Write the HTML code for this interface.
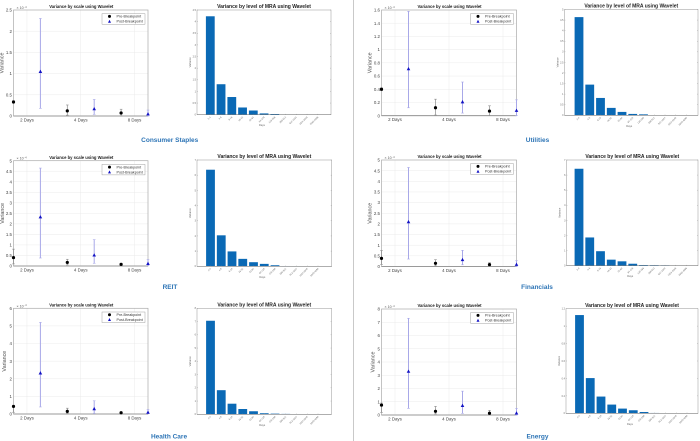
<!DOCTYPE html>
<html>
<head>
<meta charset="utf-8">
<title>Variance by scale and MRA level</title>
<style>
html,body{margin:0;padding:0;background:#fff;}
#stage{display:block;width:700px;height:441px;filter:blur(0.25px);}
text{font-family:"Liberation Sans",sans-serif;}
</style>
</head>
<body>
<svg id="stage" xmlns="http://www.w3.org/2000/svg" width="700" height="441" viewBox="0 0 700 441">
<rect width="700" height="441" fill="#fff"/>
<line x1="353.5" y1="0" x2="353.5" y2="441" stroke="#c9c9c9" stroke-width="1"/>
</svg>
<script>
// Scale charts: shared categories and series names
const scaleCategories = ['2 Days', '4 Days', '8 Days'];
const seriesNames = ['Pre-Breakpoint', 'Post-Breakpoint'];
const levelCategories = ['2-4','4-8','8-16','16-32','32-64','64-128','128-256','256-512','512-1024','1024-2048','2048-4096'];

// Consumer Staples
const staplesTicks = [0, 0.5, 1, 1.5, 2, 2.5];
const staplesPre = [0.33, 0.12, 0.07];
const staplesPreLow = [0.31, 0.02, 0.0];
const staplesPreHigh = [0.36, 0.26, 0.16];
const staplesPost = [1.05, 0.17, 0.05];
const staplesPostLow = [0.18, 0.04, 0.0];
const staplesPostHigh = [2.3, 0.39, 0.14];
const staplesLevelTicks = [0, 0.5, 1, 1.5, 2, 2.5, 3, 3.5, 4, 4.5];
const staplesLevels = [4.23, 1.31, 0.76, 0.31, 0.18, 0.055, 0.03, 0.006, 0.004, 0.002, 0.001];

// Utilities
const utilitiesTicks = [0, 0.2, 0.4, 0.6, 0.8, 1, 1.2, 1.4, 1.6];
const utilitiesPre = [0.4, 0.12, 0.07];
const utilitiesPreLow = [0.38, 0.01, 0.0];
const utilitiesPreHigh = [0.42, 0.25, 0.15];
const utilitiesPost = [0.71, 0.21, 0.08];
const utilitiesPostLow = [0.12, 0.04, 0.0];
const utilitiesPostHigh = [1.58, 0.51, 0.24];
const utilitiesLevelTicks = [0, 0.5, 1, 1.5, 2, 2.5, 3, 3.5, 4, 4.5, 5];
const utilitiesLevels = [4.64, 1.45, 0.82, 0.35, 0.16, 0.065, 0.045, 0.005, 0.003, 0.002, 0.001];

// REIT
const reitTicks = [0, 0.5, 1, 1.5, 2, 2.5, 3, 3.5, 4, 4.5, 5];
const reitPre = [0.4, 0.17, 0.08];
const reitPreLow = [0.1, 0.05, 0.03];
const reitPreHigh = [0.8, 0.32, 0.13];
const reitPost = [2.33, 0.52, 0.12];
const reitPostLow = [0.38, 0.13, 0.02];
const reitPostHigh = [4.65, 1.25, 0.3];
const reitLevelTicks = [0, 1, 2, 3, 4, 5, 6, 7];
const reitLevels = [6.36, 2.04, 0.98, 0.49, 0.27, 0.16, 0.07, 0.02, 0.01, 0.005, 0.002];

// Financials
const financialsTicks = [0, 0.5, 1, 1.5, 2, 2.5, 3, 3.5, 4, 4.5, 5];
const financialsPre = [0.38, 0.15, 0.09];
const financialsPreLow = [0.1, 0.03, 0.02];
const financialsPreHigh = [0.75, 0.32, 0.18];
const financialsPost = [2.1, 0.32, 0.1];
const financialsPostLow = [0.35, 0.08, 0.0];
const financialsPostHigh = [4.65, 0.76, 0.27];
const financialsLevelTicks = [0, 1, 2, 3, 4, 5, 6, 7];
const financialsLevels = [6.42, 1.87, 0.96, 0.4, 0.29, 0.13, 0.04, 0.03, 0.02, 0.005, 0.002];

// Health Care
const healthTicks = [0, 1, 2, 3, 4, 5, 6];
const healthPre = [0.43, 0.15, 0.07];
const healthPreLow = [0.1, 0.03, 0.03];
const healthPreHigh = [0.5, 0.33, 0.1];
const healthPost = [2.33, 0.3, 0.1];
const healthPostLow = [0.4, 0.03, 0.02];
const healthPostHigh = [5.2, 0.75, 0.25];
const healthLevelTicks = [0, 1, 2, 3, 4, 5, 6, 7, 8];
const healthLevels = [7.06, 1.82, 0.8, 0.4, 0.23, 0.08, 0.05, 0.03, 0.006, 0.003, 0.002];

// Energy
const energyTicks = [0, 1, 2, 3, 4, 5, 6, 7, 8];
const energyPre = [0.75, 0.28, 0.13];
const energyPreLow = [0.2, 0.08, 0.03];
const energyPreHigh = [0.9, 0.65, 0.35];
const energyPost = [3.3, 0.72, 0.15];
const energyPostLow = [0.5, 0.12, 0.0];
const energyPostHigh = [7.3, 1.8, 0.5];
const energyLevelTicks = [0, 0.2, 0.4, 0.6, 0.8, 1, 1.2];
const energyLevels = [1.127, 0.404, 0.192, 0.1, 0.054, 0.035, 0.015, 0.004, 0.001, 0.0005, 0.0003];

const svg = document.getElementById('stage');
const NS = 'http://www.w3.org/2000/svg';

function make(parent, tag, attrs, txt) {
  const el = document.createElementNS(NS, tag);
  for (const k in attrs) el.setAttribute(k, attrs[k]);
  if (txt !== undefined) el.textContent = txt;
  parent.appendChild(el);
  return el;
}
function linearY(box, maxV) {
  return v => box.bottom - (v / maxV) * (box.bottom - box.top);
}

function drawScaleChart(slug, box, ticks, pre, preLow, preHigh, post, postLow, postHigh, yLabelX, exponent) {
  const g = make(svg, 'g', {});
  
  
  const y = linearY(box, ticks[ticks.length - 1]);
  const x = v => box.left + (v / 5) * (box.right - box.left);
  // grid and y ticks
  ticks.forEach(t => {
    const py = y(t);
    if (t > 0 && t < ticks[ticks.length - 1]) {
      make(g, 'line', {x1: box.left, x2: box.right, y1: py, y2: py, stroke: '#e6e6e6', 'stroke-width': 0.4});
    }
    const tl = make(g, 'text', {x: box.left - 1.5, y: py + 1.6, 'font-size': 4.4, fill: '#444', 'text-anchor': 'end'}, String(t));
    
    
  });
  scaleCategories.forEach((c, i) => {
    const px = x(2 * i + 0.5);
    make(g, 'line', {x1: px, x2: px, y1: box.top, y2: box.bottom, stroke: '#e6e6e6', 'stroke-width': 0.4});
    const tl = make(g, 'text', {x: px, y: box.bottom + 5.5, 'font-size': 4.4, fill: '#444', 'text-anchor': 'middle'}, c);
    
    
  });
  // frame
  const frame = make(g, 'rect', {x: box.left, y: box.top, width: box.right - box.left, height: box.bottom - box.top, fill: 'none', stroke: '#aaa', 'stroke-width': 0.7});
  
  
  make(g, 'line', {x1: box.left, x2: box.right, y1: box.bottom, y2: box.bottom, stroke: '#8c8c8c', 'stroke-width': 0.8});
  // marks
  function errorBar(px, lo, hi, color, width) {
    make(g, 'line', {x1: px, x2: px, y1: y(lo), y2: y(hi), stroke: color, 'stroke-width': width});
    make(g, 'line', {x1: px - 1.3, x2: px + 1.3, y1: y(lo), y2: y(lo), stroke: color, 'stroke-width': 0.6});
    make(g, 'line', {x1: px - 1.3, x2: px + 1.3, y1: y(hi), y2: y(hi), stroke: color, 'stroke-width': 0.6});
  }
  scaleCategories.forEach((c, i) => {
    const px = x(2 * i);
    errorBar(px, preLow[i], preHigh[i], '#8a8a8a', 0.7);
    const dot = make(g, 'circle', {cx: px, cy: y(pre[i]), r: 1.6, fill: '#000'});
    
    
  });
  scaleCategories.forEach((c, i) => {
    const px = x(2 * i + 1);
    errorBar(px, postLow[i], postHigh[i], '#a8a8e8', 1);
    const py = y(post[i]);
    const tri = make(g, 'polygon', {points: (px - 1.8) + ',' + (py + 1.5) + ' ' + (px + 1.8) + ',' + (py + 1.5) + ' ' + px + ',' + (py - 1.8), fill: '#1212c4'});
    
    
  });
  // texts
  const title = make(g, 'text', {x: (box.left + box.right) / 2 + 0.5, y: box.top - 1.8, 'font-size': 4.2, 'font-weight': 'bold', fill: '#222', 'text-anchor': 'middle'}, 'Variance by scale using Wavelet');
  
  
  const ex = make(g, 'text', {x: box.left + 3, y: box.top - 1, 'font-size': 3.6, fill: '#555'}, '\u00d7 10');
  
  
  make(g, 'text', {x: box.left + 11, y: box.top - 2.2, 'font-size': 2.4, fill: '#555'}, exponent);
  const midY = (box.top + box.bottom) / 2;
  const yl = make(g, 'text', {x: yLabelX, y: midY, 'font-size': 5.4, fill: '#555', 'text-anchor': 'middle', transform: 'rotate(-90 ' + yLabelX + ' ' + midY + ')'}, 'Variance');
  
  
  // legend
  const lx = box.right - 46, ly = box.top + 3.7;
  const lg = make(g, 'g', {});
  
  
  make(lg, 'rect', {x: lx, y: ly, width: 43, height: 10.5, fill: '#fff', stroke: '#8c8c8c', 'stroke-width': 0.4});
  make(lg, 'circle', {cx: lx + 7.5, cy: ly + 2.7, r: 1.5, fill: '#000'});
  make(lg, 'polygon', {points: (lx + 6) + ',' + (ly + 9) + ' ' + (lx + 9) + ',' + (ly + 9) + ' ' + (lx + 7.5) + ',' + (ly + 6), fill: '#1212c4'});
  make(lg, 'text', {x: lx + 14.5, y: ly + 4, 'font-size': 3.7, fill: '#333'}, seriesNames[0]);
  make(lg, 'text', {x: lx + 14.5, y: ly + 8.9, 'font-size': 3.7, fill: '#333'}, seriesNames[1]);
}

function drawLevelChart(slug, box, ticks, levels, firstCenter) {
  const g = make(svg, 'g', {});
  
  
  const y = linearY(box, ticks[ticks.length - 1]);
  const step = 10.75;
  const x = i => firstCenter + i * step;
  const frame = make(g, 'rect', {x: box.left, y: box.top, width: box.right - box.left, height: box.bottom - box.top, fill: 'none', stroke: '#a8a8a8', 'stroke-width': 0.6});
  
  
  levels.forEach((v, i) => {
    const top = y(v);
    const bar = make(g, 'rect', {x: x(i) - 4.4, y: top, width: 8.8, height: box.bottom - top, fill: '#0a69b5'});
    
    
    const tx = x(i), ty = box.bottom + 2;
    const tl = make(g, 'text', {x: tx, y: ty + 1, 'font-size': 2.3, fill: '#666', 'text-anchor': 'end', transform: 'rotate(-45 ' + tx + ' ' + ty + ')'}, levelCategories[i]);
    
    
    make(g, 'line', {x1: tx, x2: tx, y1: box.bottom, y2: box.bottom - 0.8, stroke: '#888', 'stroke-width': 0.3});
  });
  ticks.forEach(t => {
    const py = y(t);
    make(g, 'line', {x1: box.left, x2: box.left + 1, y1: py, y2: py, stroke: '#888', 'stroke-width': 0.3});
    make(g, 'line', {x1: box.right, x2: box.right - 1, y1: py, y2: py, stroke: '#888', 'stroke-width': 0.3});
    const tl = make(g, 'text', {x: box.left - 1, y: py + 0.9, 'font-size': 2.4, fill: '#666', 'text-anchor': 'end'}, String(t));
    
    
  });
  make(g, 'line', {x1: box.left, x2: box.right, y1: box.bottom, y2: box.bottom, stroke: '#777', 'stroke-width': 0.5});
  const title = make(g, 'text', {x: (box.left + box.right) / 2, y: box.top - 1.8, 'font-size': 5, 'font-weight': 'bold', fill: '#222', 'text-anchor': 'middle'}, 'Variance by level of MRA using Wavelet');
  
  
  const xl = make(g, 'text', {x: (box.left + box.right) / 2 - 2, y: box.bottom + 11.5, 'font-size': 2.6, fill: '#666', 'text-anchor': 'middle'}, 'Days');
  
  
  const midY = (box.top + box.bottom) / 2, lx = box.left - 6;
  const yl = make(g, 'text', {x: lx, y: midY, 'font-size': 2.6, fill: '#666', 'text-anchor': 'middle', transform: 'rotate(-90 ' + lx + ' ' + midY + ')'}, 'Variance');
  
  
}

function sectorLabel(slug, text, cx, cy) {
  const t = make(svg, 'text', {x: cx, y: cy, 'font-size': 6.5, 'font-weight': 'bold', fill: '#2e75b6', 'text-anchor': 'middle'}, text);
  
  
}

drawScaleChart('consumer-staples', {left: 13.5, right: 148, top: 10, bottom: 116}, staplesTicks, staplesPre, staplesPreLow, staplesPreHigh, staplesPost, staplesPostLow, staplesPostHigh, 3.5, '-4');
drawLevelChart('consumer-staples', {left: 197, right: 331, top: 10, bottom: 114.7}, staplesLevelTicks, staplesLevels, 210.3);
drawScaleChart('utilities', {left: 381.5, right: 516.5, top: 10, bottom: 115.7}, utilitiesTicks, utilitiesPre, utilitiesPreLow, utilitiesPreHigh, utilitiesPost, utilitiesPostLow, utilitiesPostHigh, 371.5, '-4');
drawLevelChart('utilities', {left: 564.5, right: 698, top: 9.5, bottom: 115.3}, utilitiesLevelTicks, utilitiesLevels, 579);

drawScaleChart('reit', {left: 13.5, right: 148, top: 160.7, bottom: 266}, reitTicks, reitPre, reitPreLow, reitPreHigh, reitPost, reitPostLow, reitPostHigh, 4, '-4');
drawLevelChart('reit', {left: 197, right: 331.7, top: 160, bottom: 266.3}, reitLevelTicks, reitLevels, 210.5);
drawScaleChart('financials', {left: 381.5, right: 516.5, top: 160, bottom: 266.5}, financialsTicks, financialsPre, financialsPreLow, financialsPreHigh, financialsPost, financialsPostLow, financialsPostHigh, 371.5, '-4');
drawLevelChart('financials', {left: 566.5, right: 698, top: 160, bottom: 265.7}, financialsLevelTicks, financialsLevels, 579);

drawScaleChart('health-care', {left: 13.5, right: 148, top: 308.3, bottom: 414}, healthTicks, healthPre, healthPreLow, healthPreHigh, healthPost, healthPostLow, healthPostHigh, 6, '-4');
drawLevelChart('health-care', {left: 197, right: 331.5, top: 308.3, bottom: 414.3}, healthLevelTicks, healthLevels, 210.5);
drawScaleChart('energy', {left: 381.5, right: 516.5, top: 309, bottom: 415}, energyTicks, energyPre, energyPreLow, energyPreHigh, energyPost, energyPostLow, energyPostHigh, 374.5, '-4');
drawLevelChart('energy', {left: 566, right: 698, top: 308.7, bottom: 413.3}, energyLevelTicks, energyLevels, 579.5);

sectorLabel('consumer-staples', 'Consumer Staples', 169.7, 142);
sectorLabel('utilities', 'Utilities', 537.5, 142);
sectorLabel('reit', 'REIT', 170, 289);
sectorLabel('financials', 'Financials', 537, 289);
sectorLabel('health-care', 'Health Care', 169, 438.5);
sectorLabel('energy', 'Energy', 537.5, 438.5);
</script>
</body>
</html>
